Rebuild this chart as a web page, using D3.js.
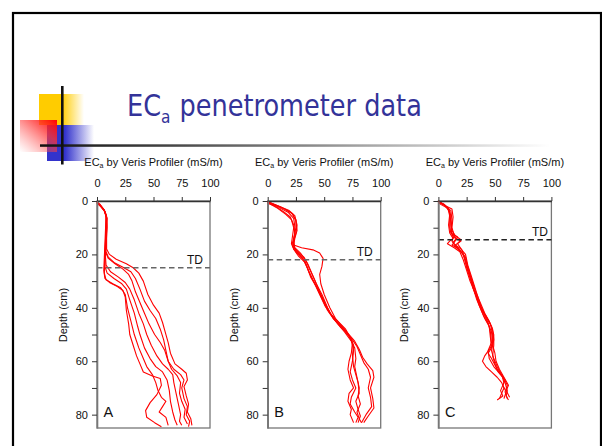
<!DOCTYPE html>
<html>
<head>
<meta charset="utf-8">
<script src="https://cdn.jsdelivr.net/npm/d3@7"></script>
<style>
  body { margin: 0; background: #fff; }
  svg { display: block; }
</style>
</head>
<body>
<svg id="slide" width="602" height="446"></svg>
<script>
// panel letters, tillage depth (cm) and axis ticks
const panelNames = ["A", "B", "C"];
const tdDepth = [25, 22, 14.5];
const xTicks = [0, 25, 50, 75, 100];
const yTicks = [0, 10, 20, 30, 40, 50, 60, 70, 80];
const yTickLabels = ["0", "", "20", "", "40", "", "60", "", "80"];

// profiles: [ECa mS/m, depth cm]
const curvesA = [
  [[0,0.5],[3,1.6],[6.5,3.4],[8,6],[7.5,11],[7,16],[6.5,21],[6,26],[7,29],[11,30.5],[18,32],[23,33.5],[25,36],[26,41],[28,46],[29,50],[32,54],[35,58],[38,61],[41,64],[49,65.5],[56,66.5],[57,69],[53,72.5],[47,75.5],[43,78.5],[44,81],[51,83],[57,84.5]],
  [[0,0.7],[3.5,2],[7,3.8],[8.5,6.5],[8,12],[7.5,17],[7,22],[6.5,27],[8,29.5],[14,31],[21,32.5],[25,35],[27,40],[30,45],[33,50],[37,55],[41,59],[44,62],[49,65],[52,68],[54,71],[57,73.5],[61,75],[58,77],[55,79],[61,81],[63,84]],
  [[0,0.4],[2.5,1.4],[6,3.2],[8,5.5],[8,10],[7.5,15],[7,20],[7,24.5],[9,27],[15,29],[22,31],[26,33],[29,37],[33,42],[36,47],[38,50],[42,55],[47,59],[52,62],[58,64],[62,67],[64,71],[65,75],[67,79],[69,82],[71,84]],
  [[0,0.6],[3,1.7],[6.5,3.6],[8.5,6],[8,11],[7.5,16],[7.5,21],[8,24],[12,26.5],[19,28.5],[25,30.5],[29,33],[33,37],[37,42],[41,46],[44,50],[48,54],[53,58],[58,61],[63,63],[67,65],[68,68],[70,72],[72,76],[74,80],[73,82.5],[75,84]],
  [[0,0.3],[2.5,1.2],[5.5,2.8],[8,5],[8.5,9],[8,14],[7.5,19],[10,21.5],[16,23.5],[23,25.5],[28,27.5],[31,30],[34,34],[38,38],[42,42],[46,46],[51,50],[56,53],[60,56],[63,60],[66,63],[71,65.5],[74,68],[73,72],[75,75],[78,78],[77,81],[80,83.5]],
  [[0,0.8],[3.5,2.2],[7,4],[9,6.5],[8.5,11],[8,15],[8,19],[10,21],[15,23],[23,24.8],[30,26.5],[34,29],[38,33],[42,37.5],[47,41],[52,44],[56,48],[59,52],[61,56],[63,60],[68,63],[74,65],[77,67],[75,70],[77,74],[80,77],[79,80],[82,82.5],[81,84.5]],
  [[0,0.5],[3,1.8],[6.5,3.5],[8.5,6],[9,10],[8.5,14],[8.5,18],[11,20],[17,21.8],[26,23.5],[32,25],[37,27],[41,30],[45,35],[50,39],[55,42],[58,45.5],[61,50],[63,53],[65,57],[69,61],[75,63],[79,64.5],[80,67],[77,69.5],[79,73],[81,76],[80,79],[83,81.5],[84,84]]
];

const curvesB = [
  [[0,0.5],[8,1.8],[16,3.2],[22,4.8],[25,7.5],[26,11],[24,14],[23,16.5],[30,17.5],[40,18.3],[46,19.5],[49,21.5],[48,24.5],[46,27.5],[47,31],[50,35],[55,40],[60,44],[66,47],[72,50],[77,52.5],[81,55.5],[84,58.5],[88,61],[93,63.5],[94,66],[91,70],[93,74],[94,77.5],[89,80.5],[85,83]],
  [[0,0.3],[10,2],[19,3.6],[24,5.5],[26,9],[25,12],[23,15],[22,17],[26,18.8],[32,21],[36,24],[39,27],[43,31],[48,35],[53,40],[58,44],[64,47],[70,49.5],[75,52],[79,54.5],[82,57.5],[85,60.5],[89,63],[91,66],[89,70],[91,73.5],[92,77],[87,80],[83,83]],
  [[0,0.6],[8,2.5],[16,5],[21,7],[23,10],[22,13],[21,16],[23,18],[28,20],[33,22.5],[36,26],[40,29.5],[45,33.5],[50,38],[55,42],[62,45],[69,48],[74,52],[76,56],[75,60],[73,64],[75,67],[78,70],[74,73.5],[73,76],[77,79],[80,81],[78,83]],
  [[0,0.2],[12,2.3],[21,4.5],[25,7],[25,10],[23.5,13],[22.5,16],[25,19],[31,21.5],[35,25],[38,28.5],[43,32],[48,36.5],[53,41],[58,44],[65,47],[71,50],[75,53],[74,57],[72,60],[71,63],[73,67],[76,70],[72,72],[71,75],[74,78],[73,80],[76,83]],
  [[0,0.8],[7,2],[14,4],[20,6],[23,9],[24,12],[23,15],[24,17.5],[29,19.5],[34,22.5],[37,25.5],[41,29],[46,34],[51,38.5],[56,42.5],[62,46],[68,49],[74,52.5],[77,55],[78,59],[77,62],[79,66],[81,70],[80,73],[82,76],[79,79],[81,81.5],[83,83]],
  [[0,0.4],[9,2.2],[18,4.2],[23,6.5],[24,9.5],[24,12.5],[22,15.5],[23,18],[27,20.5],[33,23],[37,27],[41,30.5],[46,35],[51,39.5],[57,43],[63,46],[69,48.5],[73,51],[76,54],[75,58],[76,62],[78,65],[80,68],[81,72],[78,75],[80,78],[82,80.5],[80,83]]
];

const curvesC = [
  [[0,0.5],[5,1.5],[9,3],[10,6],[10,10],[11,12],[17,13.5],[14,15.5],[12,16.5],[18,18],[22,20],[24,23],[27,27],[30,31],[33,35],[36,39],[40,43],[44,46],[47,49],[48,53],[46,55],[41,58],[39,60],[42,62],[47,64],[52,66],[56,68],[58,70],[56,72],[54,74]],
  [[0,0],[6,1.8],[10,4],[11,8],[12,11],[15,13],[20,14.5],[17,16],[21,18.5],[23,21],[25,25],[28,29],[31,33],[35,37],[39,41],[43,44],[47,47],[49,50],[49,54],[48,58],[50,61],[53,64],[57,66],[59,68],[61,71],[60,73],[62,74.5]],
  [[0,0.3],[4,1],[8,2.5],[10,5],[9,9],[10,12],[13,14],[10,15],[8,16],[14,17.5],[19,19],[22,22],[25,26],[28,30],[32,34],[36,38],[40,42],[44,45.5],[46,49],[47,53],[44,56],[45,59],[49,62],[53,64],[58,66.5],[61,69],[59,71.5],[61,74]],
  [[0,0.8],[6,2.2],[11,3.5],[12,7],[11,11],[13,13.5],[20,15],[15,16.5],[20,18],[24,20],[26,24],[29,28],[32,32],[35,36],[38,40],[42,43],[46,46],[48,50],[48,54],[50,57],[51,60],[54,63],[58,66],[62,69],[60,71],[63,73.5]],
  [[1,0.5],[7,2],[12,3],[13,6],[12,10],[14,13],[12,15],[15,17],[20,19],[24,21],[26,25],[29,29],[31,33],[34,37],[38,41],[41,44],[45,47],[46,51],[47,55],[44,57],[47,59],[52,63],[56,65],[58,68],[55,71],[57,73],[52,74.5]],
  [[0,0.2],[5,1.2],[9,2.8],[11,5.5],[11,9],[12,12.5],[16,14],[13,15.5],[17,17.5],[21,19.5],[24,22],[27,26],[30,30],[33,34],[37,38],[41,42],[45,45],[48,48],[49,52],[47,56],[49,59],[52,62],[55,64.5],[59,67],[57,69],[60,71.5],[58,74]]
];
const allCurves = [curvesA, curvesB, curvesC];

const svg = d3.select("svg#slide");
const defs = svg.append("defs");

function addGradient(id, x1, y1, x2, y2, stops) {
  const g = defs.append("linearGradient").attr("id", id)
    .attr("x1", x1).attr("y1", y1).attr("x2", x2).attr("y2", y2);
  stops.forEach(s => g.append("stop")
    .attr("offset", s[0]).attr("stop-color", s[1]).attr("stop-opacity", s[2]));
}
addGradient("gYellow", 0, 0, 1, 0, [[0, "#ffcc00", 1], [0.5, "#ffcc00", 1], [1, "#ffcc00", 0]]);
addGradient("gBlue", 0, 0, 1, 0, [[0, "#3333cc", 1], [0.38, "#3333cc", 1], [1, "#3333cc", 0]]);
addGradient("gRed", 1, 0, 0, 1, [[0, "#ff0000", 1], [0.35, "#ff3333", 0.75], [1, "#ff6666", 0]]);
addGradient("gRule", 0, 0, 1, 0, [[0, "#111", 1], [0.25, "#444", 1], [1, "#fff", 1]]);

// slide frame
svg.append("rect").attr("x", 13).attr("y", 13).attr("width", 588).attr("height", 460)
  .attr("fill", "none").attr("stroke", "#000").attr("stroke-width", 2.2);

// corner decoration
svg.append("rect").attr("x", 39).attr("y", 94).attr("width", 45).attr("height", 31).attr("fill", "url(#gYellow)");
svg.append("rect").attr("x", 47).attr("y", 125).attr("width", 47).attr("height", 36).attr("fill", "url(#gBlue)");
svg.append("rect").attr("x", 20).attr("y", 120).attr("width", 37).attr("height", 32).attr("fill", "url(#gRed)");
svg.append("rect").attr("x", 40).attr("y", 144.3).attr("width", 510).attr("height", 2.5).attr("fill", "url(#gRule)");
svg.append("line").attr("x1", 62.3).attr("x2", 62.3).attr("y1", 86).attr("y2", 164.5)
  .attr("stroke", "#111").attr("stroke-width", 2.6);

// title, squeezed horizontally to the width it has on the slide
const titleG = svg.append("g");
const title = titleG.append("text").attr("x", 0).attr("y", 0)
  .attr("fill", "#333399")
  .style("font-family", "'DejaVu Sans', sans-serif")
  .style("font-size", "30px");
title.append("tspan").text("EC");
title.append("tspan").attr("dy", 7).style("font-size", "18px").text("a");
title.append("tspan").attr("dy", -7).attr("dx", 1).text(" penetrometer data");
const titleW = title.node().getBBox().width;
titleG.attr("transform", `translate(127,116) scale(${295 / titleW},1)`);

// panels
const font = "'Liberation Sans', Arial, sans-serif";
const plotW = 113, plotTop = 201, plotBottom = 428;
const y = d3.scaleLinear().domain([0, 85]).range([plotTop, plotBottom]);

panelNames.forEach((name, i) => {
  const left = 97 + i * 170.7;
  const x = d3.scaleLinear().domain([0, 100]).range([left, left + plotW]);
  const g = svg.append("g").attr("font-family", font).style("font-family", font);

  // frame
  g.append("rect").attr("x", left).attr("y", plotTop).attr("width", plotW).attr("height", plotBottom - plotTop)
    .attr("fill", "none").attr("stroke", "#777").attr("stroke-width", 1.3);

  // curves
  const line = d3.line().x(d => x(d[0])).y(d => y(d[1]));
  g.selectAll("path.curve").data(allCurves[i]).join("path")
    .attr("class", "curve")
    .attr("d", line)
    .attr("fill", "none").attr("stroke", "#ff0000").attr("stroke-width", 1.1)
    .attr("stroke-linejoin", "round");

  // tillage depth line
  g.append("line").attr("x1", left).attr("x2", left + plotW)
    .attr("y1", y(tdDepth[i])).attr("y2", y(tdDepth[i]))
    .attr("stroke", i === 2 ? "#222" : "#666").attr("stroke-width", 1.6)
    .attr("stroke-dasharray", "5.5,3.5");
  g.append("text").attr("x", left + plotW - [7, 8, 3.5][i]).attr("y", y(tdDepth[i]) - 4)
    .attr("text-anchor", "end").attr("fill", "#111").style("font-size", "12px").text("TD");

  // axes
  const xAxis = g.append("g").attr("transform", `translate(0,${plotTop})`)
    .call(d3.axisTop(x).tickValues(xTicks).tickSize(4).tickSizeOuter(0).tickPadding(10));
  xAxis.attr("font-family", font);
  xAxis.select(".domain").attr("stroke", "#333").attr("stroke-width", 1.3);
  xAxis.selectAll(".tick line").attr("stroke", "#333");
  xAxis.selectAll(".tick text").style("font-size", "11px").style("font-family", font).attr("fill", "#111");

  const yAxis = g.append("g").attr("transform", `translate(${left},0)`)
    .call(d3.axisLeft(y).tickValues(yTicks).tickFormat((d, k) => yTickLabels[k]).tickSize(5).tickSizeOuter(0).tickPadding(4));
  yAxis.attr("font-family", font);
  yAxis.select(".domain").attr("stroke", "#777").attr("stroke-width", 1.6);
  yAxis.selectAll(".tick line").attr("stroke", "#333");
  yAxis.selectAll(".tick text").style("font-size", "11px").style("font-family", font).attr("fill", "#111");

  // axis titles
  const xt = g.append("text").attr("x", left + plotW / 2).attr("y", 165.5)
    .attr("text-anchor", "middle").attr("fill", "#111").style("font-size", "11px");
  xt.append("tspan").text("EC");
  xt.append("tspan").attr("dy", 2).style("font-size", "7px").text("a");
  xt.append("tspan").attr("dy", -2).text(" by Veris Profiler (mS/m)");

  g.append("text")
    .attr("transform", `translate(${left - 30},${315}) rotate(-90)`)
    .attr("text-anchor", "middle").attr("fill", "#111").style("font-size", "11px").text("Depth (cm)");

  g.append("text").attr("x", left + 6.5).attr("y", 417).attr("fill", "#111")
    .style("font-size", "14.5px").text(name);
});
</script>
</body>
</html>
